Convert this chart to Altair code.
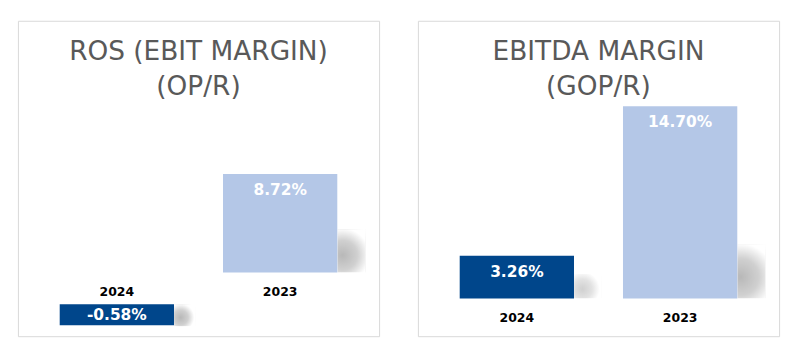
import altair as alt
import pandas as pd

# ---- data ----
years = ["2024", "2023"]
ros_values = [-0.58, 8.72]
ros_labels = ["-0.58%", "8.72%"]
ebitda_values = [3.26, 14.70]
ebitda_labels = ["3.26%", "14.70%"]
bar_colors = ["#00468B", "#B4C7E7"]
ros_title = ["ROS (EBIT MARGIN)", "(OP/R)"]
ebitda_title = ["EBITDA MARGIN", "(GOP/R)"]

W, H = 363, 317
TITLE_FONT = "DejaVu Sans"
LABEL_FONT = "DejaVu Sans"

xenc = alt.X("year:N", sort=years, axis=None,
             scale=alt.Scale(domain=years, paddingInner=0.3, paddingOuter=0.256))
cenc = alt.Color("year:N", scale=alt.Scale(domain=years, range=bar_colors), legend=None)


def shadow_grad(dark, mid):
    return alt.Gradient(
        gradient="radial",
        x1=0.3, y1=0.6, r1=0,
        x2=0.3, y2=0.6, r2=0.62,
        stops=[alt.GradientStop(color=dark, offset=0),
               alt.GradientStop(color=mid, offset=0.55),
               alt.GradientStop(color="#ffffff", offset=1)])


SH_LIGHT = shadow_grad("#b8b8b8", "#d0d0d0")
SH_FAINT = shadow_grad("#d0d0d0", "#e2e2e2")

SH_W = 28          # shadow width in px
SH_OFF = 57.5 + SH_W / 2  # from bar centre to shadow centre


def title_layer(lines):
    return alt.Chart(pd.DataFrame({"t": [0]})).mark_text(
        text=lines, font=TITLE_FONT, fontSize=26.5, color="#595959",
        lineHeight=36, baseline="middle", align="center"
    ).encode(x=alt.value(W / 2), y=alt.value(31))


def positive_group(df, yscale):
    yv = alt.Y("value:Q", scale=yscale, axis=None)
    layers = []
    for yr, grad in zip(years, [SH_FAINT, SH_LIGHT]):
        sub = df[df["year"] == yr]
        if len(sub):
            layers.append(alt.Chart(sub).transform_calculate(
                st="min(datum.value*0.55, datum.value*0.05+3.3)", sb="0.0"
            ).mark_bar(color=grad, width=SH_W, xOffset=SH_OFF, yOffset=-1).encode(
                x=xenc, y=alt.Y("st:Q", scale=yscale, axis=None), y2="sb:Q"))
    base = alt.Chart(df)
    bars = base.mark_bar().encode(x=xenc, y=yv, y2=alt.datum(0), color=cenc)
    labels = base.mark_text(font=LABEL_FONT, fontWeight="bold", fontSize=15.5,
                            color="white", baseline="middle", dy=16).encode(
        x=xenc, y=yv, text="label:N")
    return layers + [bars, labels]


def category_layer(df, yscale):
    return alt.Chart(df).transform_calculate(zero="0").mark_text(
        font=LABEL_FONT, fontWeight="bold", fontSize=12.5, color="black",
        baseline="middle", dy=20).encode(
        x=xenc, y=alt.Y("zero:Q", scale=yscale, axis=None), text="year:N")


# ---- left panel (ROS) ----
ros_df = pd.DataFrame({"year": years, "value": ros_values, "label": ros_labels})
scaleA = alt.Scale(domain=[-5.637, 22.285], nice=False, zero=False)
scaleB = alt.Scale(domain=[-0.884, 7.87], nice=False, zero=False)

posA = ros_df[ros_df["value"] > 0]
negB = ros_df[ros_df["value"] < 0]

groupA = alt.layer(*positive_group(posA, scaleA), category_layer(ros_df, scaleA),
                   title_layer(ros_title))

baseB = alt.Chart(negB)
shadowB = baseB.transform_calculate(st="datum.value*1.05", sb="datum.value*0.0").mark_bar(
    color=SH_LIGHT, width=SH_W - 6, xOffset=57.5 + (SH_W - 6) / 2).encode(
    x=xenc, y=alt.Y("st:Q", scale=scaleB, axis=None), y2="sb:Q")
barsB = baseB.mark_bar().encode(
    x=xenc, y=alt.Y("value:Q", scale=scaleB, axis=None), y2=alt.datum(0), color=cenc)
labelsB = baseB.mark_text(font=LABEL_FONT, fontWeight="bold", fontSize=15.5,
                          color="white", baseline="middle", dy=-10).encode(
    x=xenc, y=alt.Y("value:Q", scale=scaleB, axis=None), text="label:N")
groupB = alt.layer(shadowB, barsB, labelsB)

left = alt.layer(groupA, groupB).resolve_scale(y="independent").properties(width=W, height=H)

# ---- right panel (EBITDA) ----
eb_df = pd.DataFrame({"year": years, "value": ebitda_values, "label": ebitda_labels})
scaleR = alt.Scale(domain=[-2.894, 21.25], nice=False, zero=False)
right = alt.layer(*positive_group(eb_df, scaleR), category_layer(eb_df, scaleR),
                  title_layer(ebitda_title)).properties(width=W, height=H)

chart = alt.hconcat(left, right, spacing=37).resolve_scale(
    x="independent", y="independent", color="independent"
).properties(
    padding={"left": 17, "top": 19, "right": 16, "bottom": 15},
    background="white",
).configure_view(stroke="#D9D9D9", strokeWidth=1)

chart.save("out.html", embed_options={"renderer": "svg", "actions": False})
